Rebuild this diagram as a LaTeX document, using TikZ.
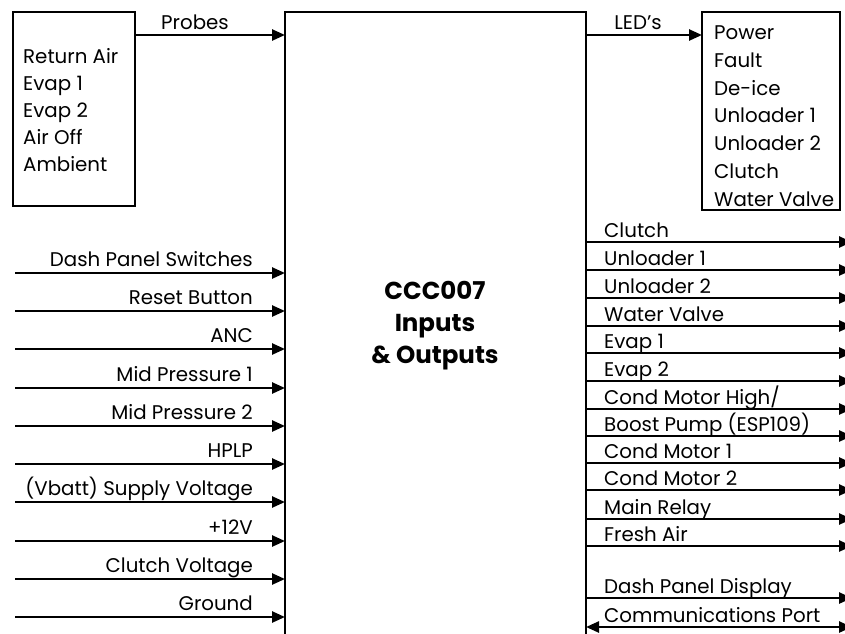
\documentclass[tikz,border=0pt]{standalone}
\usepackage{fontspec}
\setmainfont{Poppins}
\usetikzlibrary{arrows.meta}
\begin{document}
\begin{tikzpicture}[x=1pt,y=-1pt,
  boxs/.style={draw,line width=1.9pt,inner sep=0pt,outer sep=0pt},
  arr/.style={line width=2.5pt,-{Triangle[length=13pt,width=11pt]}},
  arrb/.style={line width=2.5pt,{Triangle[length=13pt,width=11pt]}-{Triangle[length=13pt,width=11pt]}},
  lbl/.style={inner sep=0pt,font=\fontsize{19.8}{22}\selectfont},
  ltxt/.style={inner sep=0pt,align=left},
  ttl/.style={inner sep=0pt,align=center,font=\bfseries\fontsize{24.5}{32}\selectfont}]
\useasboundingbox (0,0) rectangle (845,633);
% main block
\node[boxs,minimum width=301pt,minimum height=650pt,anchor=north west] (main) at (285,12) {};
\node[ttl] (title) at (435,326) {CCC007\\Inputs\\\& Outputs};
% probes box
\node[boxs,minimum width=122pt,minimum height=194pt,anchor=north west] (probes) at (13,12) {};
\node[ltxt,anchor=west,font=\fontsize{19.8}{27}\selectfont] (ptxt) at (23,110) {Return Air\\Evap 1\\Evap 2\\Air Off\\Ambient};
\draw[arr] (probes.east |- 0,35) -- (main.west |- 0,35);
\node[lbl,anchor=base] (plbl) at (195,29) {Probes};
% LED box
\node[boxs,minimum width=138pt,minimum height=198pt,anchor=north west] (leds) at (702,12) {};
\node[ltxt,anchor=west,font=\fontsize{19.8}{27.8}\selectfont] (ltx) at (714,116) {Power\\Fault\\De-ice\\Unloader 1\\Unloader 2\\Clutch\\Water Valve};
\draw[arr] (main.east |- 0,35) -- (leds.west |- 0,35);
\node[lbl,anchor=base] (llbl) at (638,29) {LED's};
% inputs
\foreach \y/\t [count=\i] in {273/Dash Panel Switches,311/Reset Button,349/ANC,388/Mid Pressure 1,426/Mid Pressure 2,464/HPLP,502/(Vbatt) Supply Voltage,541/+12V,579/Clutch Voltage,617/Ground}{
  \coordinate (in\i) at (15,\y);
  \draw[arr] (in\i) -- (in\i -| main.west);
  \node[lbl,anchor=base east] (inl\i) at (253,\y-7) {\t};
}
% outputs
\foreach \y/\t [count=\i] in {242/Clutch,270/Unloader 1,298/Unloader 2,326/Water Valve,353/Evap 1,381/Evap 2,409/{Cond Motor High/},436/Boost Pump (ESP109),463/Cond Motor 1,490/Cond Motor 2,519/Main Relay,546/Fresh Air,598/Dash Panel Display}{
  \coordinate (out\i) at (852,\y);
  \draw[arr] (out\i -| main.east) -- (out\i);
  \node[lbl,anchor=base west] (outl\i) at (604,\y-5) {\t};
}
\coordinate (com) at (852,627);
\draw[arrb] (com -| main.east) -- (com);
\node[lbl,anchor=base west] (coml) at (604,622) {Communications Port};
\end{tikzpicture}
\end{document}
